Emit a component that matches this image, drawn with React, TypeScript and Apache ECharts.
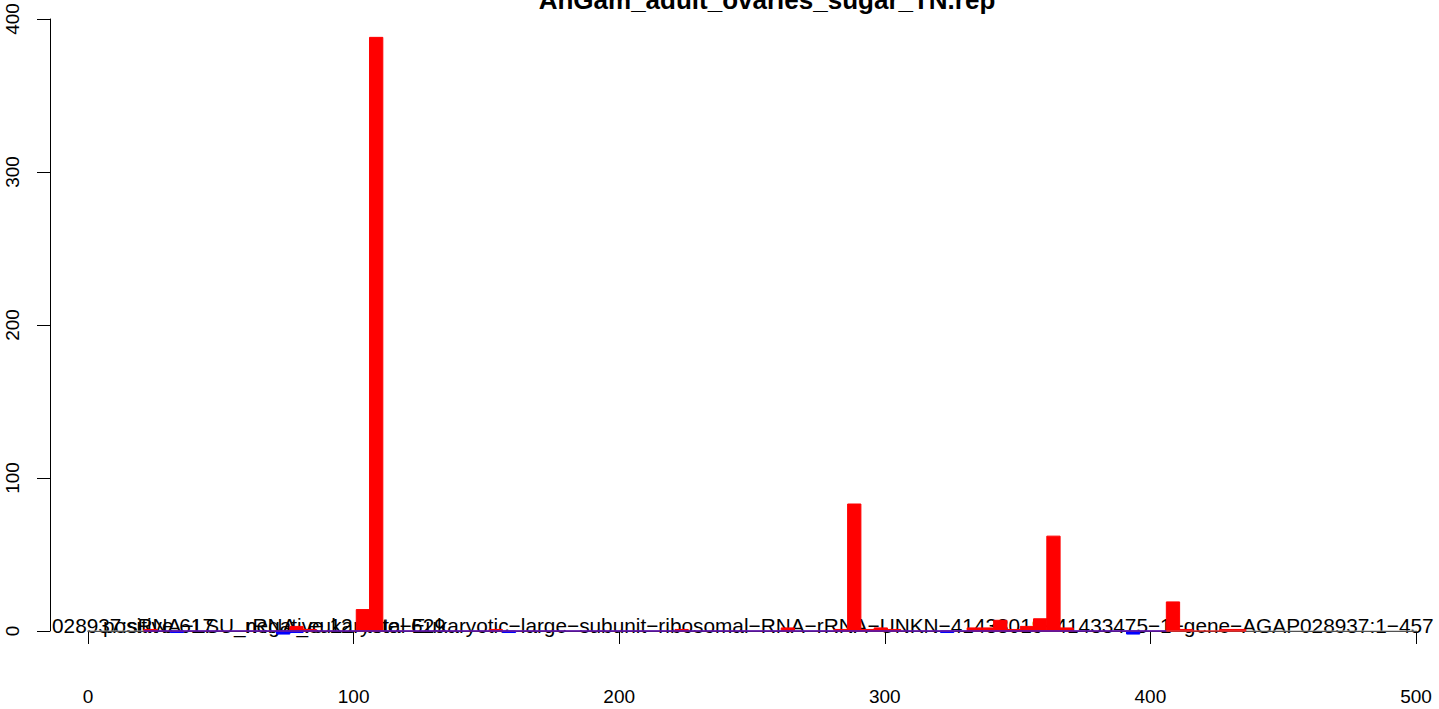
import React, { useEffect, useRef } from "react";
import * as echarts from "echarts";

const titleText = "AnGam_adult_ovaries_sugar_TN.rep";
const geneLabel =
  "028937:sRNA−LSU_rRNA_eukaryote−Eukaryotic−large−subunit−ribosomal−RNA−rRNA−UNKN−41433019−41433475−1−gene−AGAP028937:1−457";
const countLabels = ["positive 617", "negative 12", "total 629"];
const countLabelX = [103, 245, 366];

const binWidth = 5;
const posBinStarts = [21, 76, 81, 101, 106, 151, 221, 261, 281, 286, 291, 296, 301, 331, 336, 341, 346, 351, 356, 361, 366, 406, 411, 426, 431];
const posValues = [1, 3, 1, 14, 388, 1, 1, 2, 1, 83, 1, 2, 1, 2, 2, 7, 1, 3, 8, 62, 2, 19, 1, 1, 1];
const negBinStarts = [31, 71, 76, 156, 321, 391];
const negValues = [-1, -2, -1, -1, -1, -2];
const posRange = [21, 436];
const negRange = [21, 406];
const refLineRange = [-14.3, 506];

const xTicks = [0, 100, 200, 300, 400, 500];
const yTicks = [0, 100, 200, 300, 400];

const FONT = "'Liberation Sans', Arial, Helvetica, sans-serif";

export default function App() {
  const ref = useRef<HTMLDivElement>(null);
  useEffect(() => {
    if (!ref.current) return;
    const chart = echarts.init(ref.current, null, { renderer: "svg" });
    const rectItem = (color: string) => (params: any, api: any) => {
      const x0 = api.value(0);
      const v = api.value(1);
      const p0 = api.coord([x0, 0]);
      const p1 = api.coord([x0 + binWidth, v]);
      return {
        type: "rect",
        shape: {
          x: p0[0],
          y: Math.min(p0[1], p1[1]),
          width: p1[0] - p0[0],
          height: Math.abs(p1[1] - p0[1]),
        },
        style: { fill: color, stroke: color, lineWidth: 1 },
      };
    };
    chart.setOption({
      animation: false,
      backgroundColor: "#ffffff",
      textStyle: { fontFamily: FONT },
      grid: [
        { left: 88, right: 23, top: 19, bottom: 51 },
        { left: 50, right: 23, top: 19, bottom: 78 },
      ],
      xAxis: [
        {
          type: "value",
          gridIndex: 0,
          min: 0,
          max: 500,
          interval: 100,
          position: "bottom",
          splitLine: { show: false },
          axisLine: { show: true, lineStyle: { color: "#000", width: 1 } },
          axisTick: { show: true, length: 13, lineStyle: { color: "#000" } },
          axisLabel: {
            show: true,
            color: "#000",
            fontSize: 19,
            fontFamily: FONT,
            margin: 29,
            customValues: xTicks,
          },
        },
        { type: "value", gridIndex: 1, min: 0, max: 500, show: false },
      ],
      yAxis: [
        { type: "value", gridIndex: 0, min: -17.65, max: 400, show: false },
        {
          type: "value",
          gridIndex: 1,
          min: 0,
          max: 400,
          interval: 100,
          splitLine: { show: false },
          axisLine: { show: true, lineStyle: { color: "#000", width: 1 } },
          axisTick: { show: true, length: 13, lineStyle: { color: "#000" } },
          axisLabel: {
            show: true,
            color: "#000",
            fontSize: 19,
            fontFamily: FONT,
            rotate: 90,
            margin: 28,
            customValues: yTicks,
          },
        },
      ],
      series: [
        {
          type: "line",
          xAxisIndex: 0,
          yAxisIndex: 0,
          data: refLineRange.map((x) => [x, 0]),
          symbol: "none",
          clip: false,
          lineStyle: { color: "#A8A8A8", width: 1 },
          silent: true,
        },
        {
          type: "line",
          xAxisIndex: 0,
          yAxisIndex: 0,
          data: posRange.map((x) => [x, 0]),
          symbol: "none",
          lineStyle: { color: "#FF0000", width: 1 },
          silent: true,
        },
        {
          type: "line",
          xAxisIndex: 0,
          yAxisIndex: 0,
          data: negRange.map((x) => [x, 0]),
          symbol: "none",
          lineStyle: { color: "#0000FF", width: 1 },
          silent: true,
        },
        {
          type: "custom",
          xAxisIndex: 0,
          yAxisIndex: 0,
          renderItem: rectItem("#FF0000"),
          data: posBinStarts.map((s, i) => [s, posValues[i]]),
          clip: false,
        },
        {
          type: "custom",
          xAxisIndex: 0,
          yAxisIndex: 0,
          renderItem: rectItem("#0000FF"),
          data: negBinStarts.map((s, i) => [s, negValues[i]]),
          clip: false,
        },
      ],
      graphic: [
        {
          type: "text",
          x: 767,
          y: 0,
          style: {
            text: titleText,
            font: `bold 26px ${FONT}`,
            fill: "#000",
            align: "center",
            verticalAlign: "middle",
          },
        },
        {
          type: "text",
          x: 52,
          y: 625,
          style: {
            text: geneLabel,
            font: `20.8px ${FONT}`,
            fill: "#000",
            align: "left",
            verticalAlign: "middle",
          },
        },
        ...countLabels.map((t, i) => ({
          type: "text",
          x: countLabelX[i],
          y: 625,
          style: {
            text: t,
            font: `20.8px ${FONT}`,
            fill: "#000",
            align: "left",
            verticalAlign: "middle",
          },
        })),
      ],
    });
    return () => chart.dispose();
  }, []);
  return (
    <div
      ref={ref}
      style={{ position: "fixed", left: 0, top: 0, width: 1439, height: 709 }}
    />
  );
}
